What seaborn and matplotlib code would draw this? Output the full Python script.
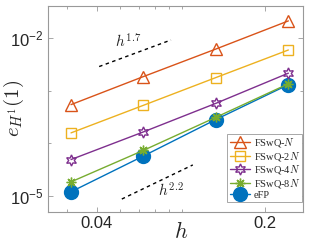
import seaborn as sns
import matplotlib.pyplot as plt
import pandas as pd
from matplotlib.ticker import FixedLocator, LogLocator, NullFormatter

# mesh sizes and H1 errors
h = [1/32, 1/16, 1/8, 1/4]
err_N = [5.46e-4, 1.87e-3, 6.26e-3, 2.15e-2]
err_2N = [1.58e-4, 5.3e-4, 1.79e-3, 6.0e-3]
err_4N = [4.9e-5, 1.65e-4, 5.78e-4, 2.17e-3]
err_8N = [1.84e-5, 7.34e-5, 3.13e-4, 1.36e-3]
err_eFP = [1.19e-5, 5.73e-5, 2.84e-4, 1.31e-3]

labels = ["FSwQ-$N$", "FSwQ-2$N$", "FSwQ-4$N$", "FSwQ-8$N$", "eFP"]

# slope reference segments
ref17_h = [0.0409, 0.0813]
ref17_e = [2.9e-3, 9.3e-3]
ref22_h = [0.0508, 0.1002]
ref22_e = [8.66e-6, 3.87e-5]

sns.set_style("ticks")
plt.rcParams["font.family"] = ["Liberation Sans", "DejaVu Sans"]
plt.rcParams["mathtext.fontset"] = "cm"

fig = plt.figure(figsize=(3.23, 2.42), dpi=100)
ax = fig.add_axes([0.149, 0.126, 0.789, 0.85])

colors = ["#D95319", "#EDB120", "#7E2F8E", "#77AC30", "#0072BD"]
markers = ["^", "s", (6, 1, 0), (8, 2, 0), "o"]
sizes = [8, 6.5, 8, 7, 10]
series = [err_N, err_2N, err_4N, err_8N, err_eFP]
zorders = [3, 3, 3, 4, 2.5]

for lab, err, c, m, ms, z in zip(labels, series, colors, markers, sizes, zorders):
    df = pd.DataFrame({"h": h, "err": err})
    face = c if lab == "eFP" else "none"
    sns.lineplot(data=df, x="h", y="err", ax=ax, color=c, lw=1.0,
                 marker=m, ms=ms, mfc=face, mec=c, mew=1.0, label=lab,
                 zorder=z)

sns.lineplot(x=ref17_h, y=ref17_e, ax=ax, color="black", lw=1.0,
             linestyle=(0, (2.5, 2.5)))
sns.lineplot(x=ref22_h, y=ref22_e, ax=ax, color="black", lw=1.0,
             linestyle=(0, (2.5, 2.5)))
ax.text(0.054, 8.5e-3, "$h^{1.7}$", fontsize=11, ha="center", va="center")
ax.text(0.0813, 1.28e-5, "$h^{2.2}$", fontsize=11, ha="center", va="center")

ax.set_xscale("log")
ax.set_yscale("log")
ax.set_xlim(0.0251, 0.2875)
ax.set_ylim(10**-5.30, 10**-1.38)

ax.xaxis.set_major_locator(FixedLocator([0.04, 0.2]))
ax.set_xticklabels(["0.04", "0.2"])
ax.xaxis.set_minor_locator(LogLocator(base=10, subs=range(2, 10)))
ax.xaxis.set_minor_formatter(NullFormatter())
ax.yaxis.set_major_locator(FixedLocator([1e-5, 1e-2]))
ax.set_yticklabels([r"$\mathregular{10^{-5}}$", r"$\mathregular{10^{-2}}$"])
ax.yaxis.set_minor_locator(FixedLocator([1e-4, 1e-3]))
ax.yaxis.set_minor_formatter(NullFormatter())

ax.tick_params(which="both", direction="in", top=True, right=True,
               colors="#999999", labelcolor="#262626", labelsize=12, width=0.6)
ax.tick_params(which="major", length=3.5)
ax.tick_params(which="minor", length=2)
for s in ax.spines.values():
    s.set_color("#999999")
    s.set_linewidth(0.8)

ax.set_xlabel("$h$", fontsize=16)
ax.set_ylabel("$e_{H^1}(1)$", fontsize=15)
ax.xaxis.set_label_coords(0.52, -0.05)
ax.yaxis.set_label_coords(-0.087, 0.5)

leg = ax.legend(loc="lower right", bbox_to_anchor=(0.996, 0.048),
                borderaxespad=0, fancybox=False,
                edgecolor="#999999", framealpha=1, handlelength=2.0,
                labelspacing=0.05, borderpad=0.2, handletextpad=0.3,
                prop={"family": "Liberation Serif", "size": 7.5})
leg.get_frame().set_linewidth(0.6)

plt.savefig("out.png", dpi=100)
